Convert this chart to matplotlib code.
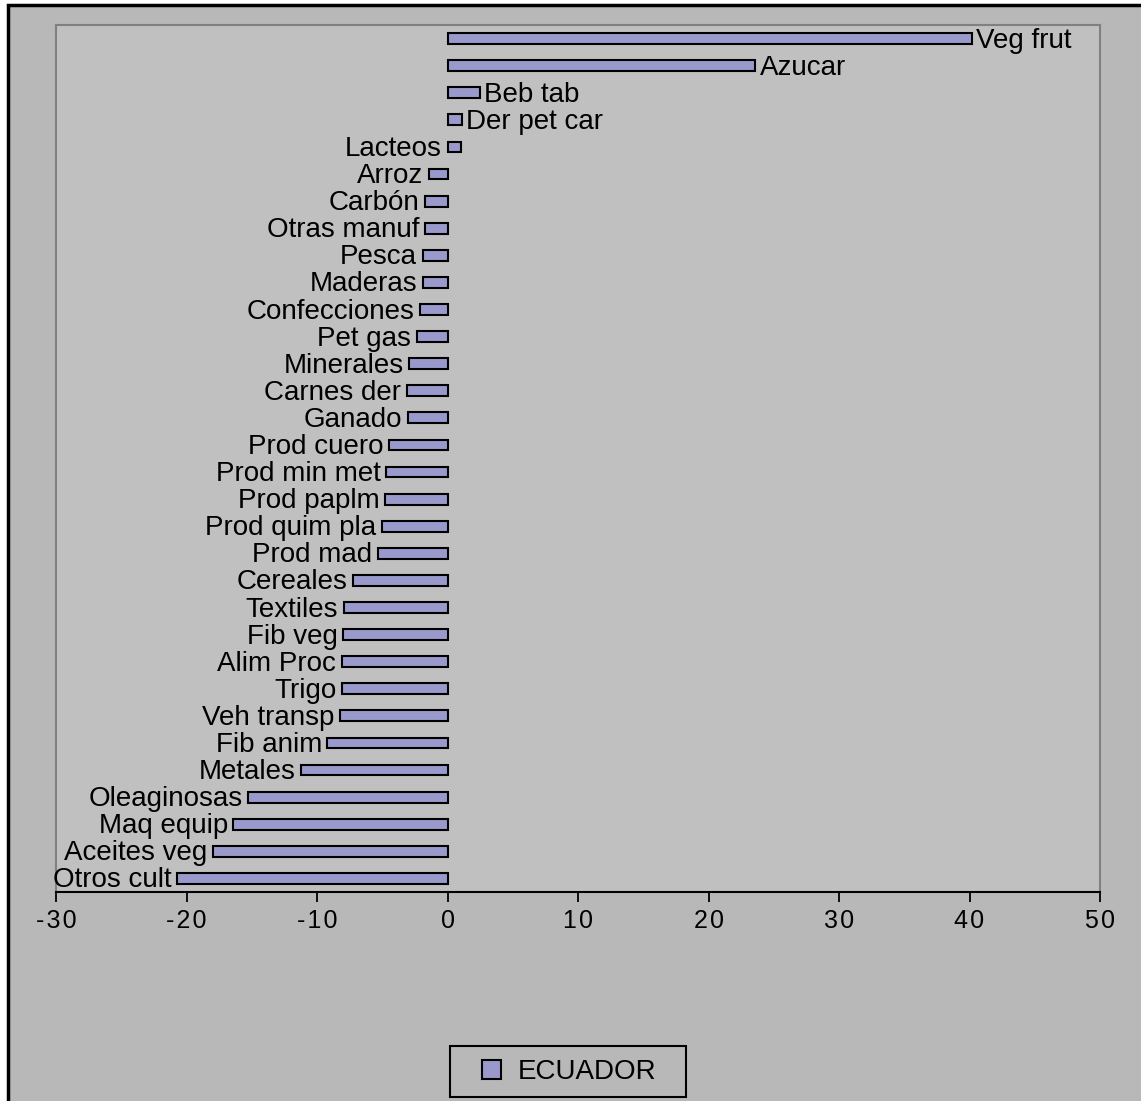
import matplotlib
matplotlib.use("Agg")
import matplotlib.pyplot as plt
from matplotlib.patches import Rectangle, Patch
from matplotlib.legend_handler import HandlerPatch

plt.rcParams['font.family'] = ['Liberation Sans', 'DejaVu Sans']

# sectors, top to bottom
sectors = ['Veg frut', 'Azucar', 'Beb tab', 'Der pet car', 'Lacteos', 'Arroz',
           'Carbón', 'Otras manuf', 'Pesca', 'Maderas', 'Confecciones', 'Pet gas',
           'Minerales', 'Carnes der', 'Ganado', 'Prod cuero', 'Prod min met',
           'Prod paplm', 'Prod quim pla', 'Prod mad', 'Cereales', 'Textiles',
           'Fib veg', 'Alim Proc', 'Trigo', 'Veh transp', 'Fib anim', 'Metales',
           'Oleaginosas', 'Maq equip', 'Aceites veg', 'Otros cult']
ecuador = [40.2, 23.6, 2.5, 1.1, 1.05, -1.45,
           -1.75, -1.7, -1.9, -1.9, -2.1, -2.35,
           -2.95, -3.1, -3.05, -4.5, -4.7,
           -4.8, -5.05, -5.35, -7.25, -7.95,
           -8.0, -8.1, -8.1, -8.25, -9.2, -11.2,
           -15.3, -16.4, -17.95, -20.7]
# these labels sit at the axis side of the bar
left_labels = ['Lacteos']
xticks = [-30, -20, -10, 0, 10, 20, 30, 40, 50]

W, H = 1141, 1101
fig = plt.figure(figsize=(W / 100, H / 100), dpi=100)
fig.patch.set_facecolor('white')

# chart area with black frame
frame = Rectangle((8 / W, -0.1), 1.2, 1 - 5 / H + 0.1, transform=fig.transFigure,
                  facecolor='#b8b8b8', edgecolor='black', lw=2.5, zorder=-5)
fig.add_artist(frame)

ax = fig.add_axes([56 / W, 1 - 892 / H, (1100 - 56) / W, (892 - 25) / H])
ax.set_facecolor('#c0c0c0')

pos = list(range(len(sectors)))
ax.barh(pos, ecuador, height=0.4, color='#9999cc', edgecolor='black', lw=1.5)

for i, (name, v) in enumerate(zip(sectors, ecuador)):
    if name in left_labels:
        ax.annotate(name, (0, i), xytext=(-4, -6.5), textcoords='offset points',
                    ha='right', va='baseline', fontsize=20)
    elif v >= 0:
        ax.annotate(name, (v, i), xytext=(3, -6.5), textcoords='offset points',
                    ha='left', va='baseline', fontsize=20)
    else:
        ax.annotate(name, (v, i), xytext=(-4, -6.5), textcoords='offset points',
                    ha='right', va='baseline', fontsize=20)

ax.set_xlim(-30, 50)
ax.set_ylim(len(sectors) - 0.5, -0.5)
ax.set_yticks([])
ax.set_xticks(xticks)
ax.set_xticklabels(['\u200a'.join(str(t)) for t in xticks], fontsize=18)
ax.tick_params(axis='x', direction='out', length=7.5, width=1.3, pad=4.5, colors='black')

for side in ['left', 'top', 'right']:
    ax.spines[side].set_color('#808080')
    ax.spines[side].set_linewidth(1.5)
ax.spines['bottom'].set_color('black')
ax.spines['bottom'].set_linewidth(1.5)


def square_patch(legend, orig_handle, xdescent, ydescent, width, height, fontsize):
    return Rectangle((-xdescent + width - height, -ydescent), height, height)


# legend box drawn separately so it can be wider than its contents
fig.add_artist(Rectangle((450 / W, 1 - 1097 / H), 236 / W, 51 / H,
                         transform=fig.transFigure, facecolor='#b8b8b8',
                         edgecolor='black', lw=1.5, zorder=4))
leg = fig.legend([Patch(facecolor='#9999cc', edgecolor='black', lw=1.5)], ['ECUADOR'],
                 loc='center', bbox_to_anchor=(569 / W, 1 - 1072 / H),
                 fontsize=20, frameon=False, handlelength=0.7, handleheight=0.7,
                 handletextpad=0.6, borderaxespad=0,
                 handler_map={Patch: HandlerPatch(patch_func=square_patch)})
leg.set_zorder(5)

fig.savefig('out.png', dpi=100)
